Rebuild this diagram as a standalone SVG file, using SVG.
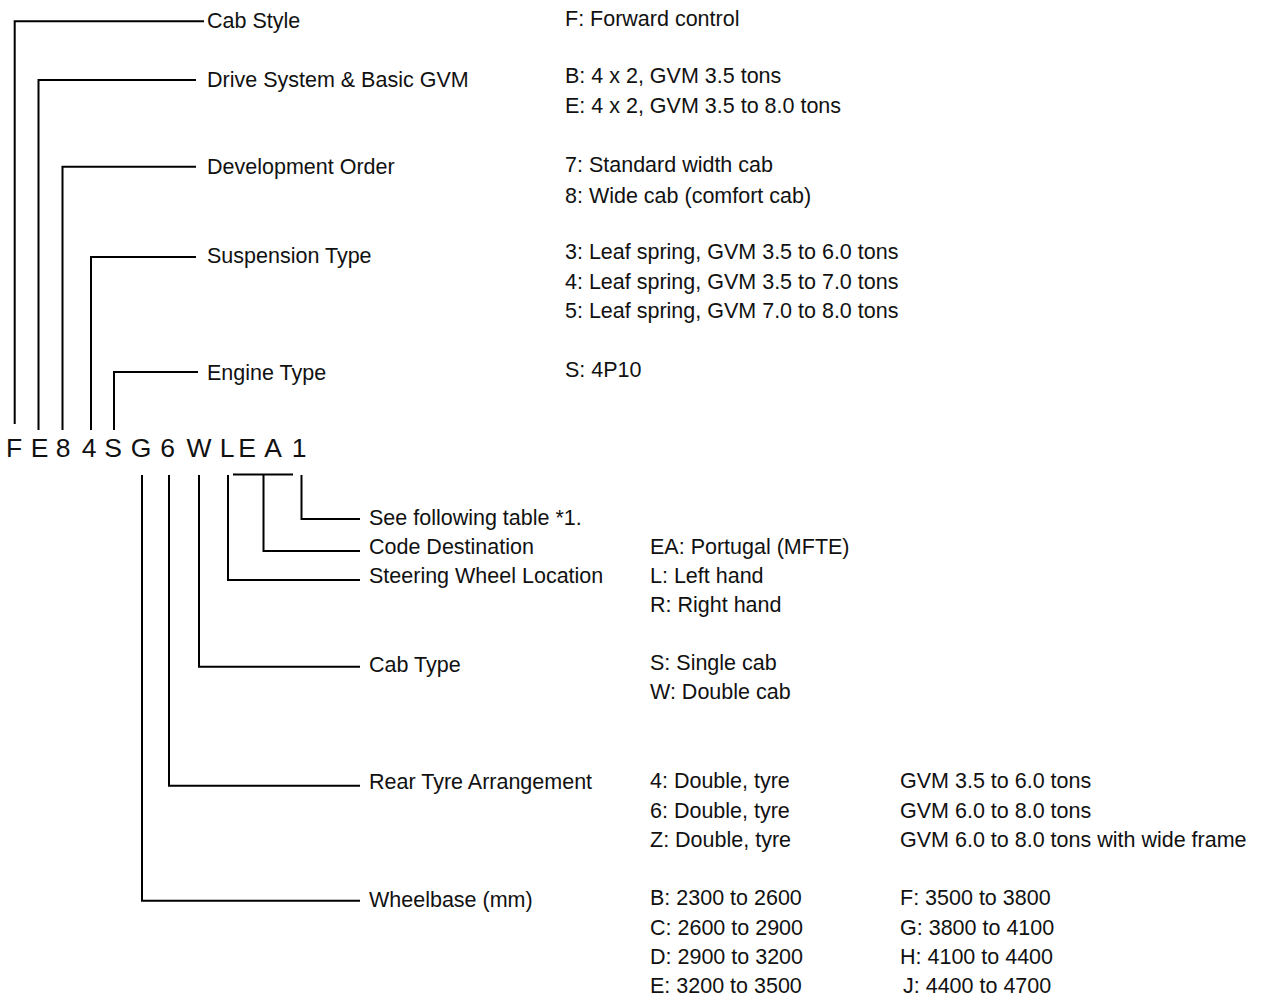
<svg xmlns="http://www.w3.org/2000/svg" width="1265" height="998" viewBox="0 0 1265 998">
<style>
text{font-family:"Liberation Sans",Arial,sans-serif;font-size:21.5px;fill:#111}
.code{font-size:26.5px;text-anchor:middle}
.ln{fill:none;stroke:#000;stroke-width:2}
</style>
<rect width="1265" height="998" fill="#fff"/>
<g id="connectors" class="ln">
<path d="M14.7 424V21.3H204"/>
<path d="M38.5 430V80H196"/>
<path d="M62.5 430V166.7H196"/>
<path d="M91 430V257H196"/>
<path d="M114 430V372H198"/>
<path d="M142 475V900.7H360"/>
<path d="M169 475V785.7H360"/>
<path d="M199 475V666.7H360"/>
<path d="M228 475V580H360"/>
<path d="M233 474.5H293"/>
<path d="M263.5 474.5V551H360"/>
<path d="M301.5 475V519H360"/>
</g>
<g id="code">
<text class="code" x="14" y="457">F</text>
<text class="code" x="39.5" y="457">E</text>
<text class="code" x="63" y="457">8</text>
<text class="code" x="89" y="457">4</text>
<text class="code" x="113" y="457">S</text>
<text class="code" x="141" y="457">G</text>
<text class="code" x="167.5" y="457">6</text>
<text class="code" x="199" y="457">W</text>
<text class="code" x="227" y="457">L</text>
<text class="code" x="247" y="457">E</text>
<text class="code" x="273" y="457">A</text>
<text class="code" x="299" y="457">1</text>
</g>
<g id="cab-style"><text x="207" y="27.5">Cab Style</text><text x="565" y="26">F: Forward control</text></g>
<g id="drive-system"><text x="207" y="87">Drive System &amp; Basic GVM</text><text x="565" y="83">B: 4 x 2, GVM 3.5 tons</text><text x="565" y="113">E: 4 x 2, GVM 3.5 to 8.0 tons</text></g>
<g id="development-order"><text x="207" y="174">Development Order</text><text x="565" y="172">7: Standard width cab</text><text x="565" y="202.5">8: Wide cab (comfort cab)</text></g>
<g id="suspension-type"><text x="207" y="263">Suspension Type</text><text x="565" y="259">3: Leaf spring, GVM 3.5 to 6.0 tons</text><text x="565" y="289">4: Leaf spring, GVM 3.5 to 7.0 tons</text><text x="565" y="318">5: Leaf spring, GVM 7.0 to 8.0 tons</text></g>
<g id="engine-type"><text x="207" y="380">Engine Type</text><text x="565" y="377">S: 4P10</text></g>
<g id="see-table"><text x="369" y="525">See following table *1.</text></g>
<g id="code-destination"><text x="369" y="554">Code Destination</text><text x="650" y="554">EA: Portugal (MFTE)</text></g>
<g id="steering"><text x="369" y="583">Steering Wheel Location</text><text x="650" y="583">L: Left hand</text><text x="650" y="612">R: Right hand</text></g>
<g id="cab-type"><text x="369" y="672">Cab Type</text><text x="650" y="670">S: Single cab</text><text x="650" y="699">W: Double cab</text></g>
<g id="rear-tyre"><text x="369" y="789">Rear Tyre Arrangement</text>
<text x="650" y="788">4: Double, tyre</text><text x="650" y="818">6: Double, tyre</text><text x="650" y="847">Z: Double, tyre</text>
<text x="900" y="788">GVM 3.5 to 6.0 tons</text><text x="900" y="818">GVM 6.0 to 8.0 tons</text><text x="900" y="847">GVM 6.0 to 8.0 tons with wide frame</text></g>
<g id="wheelbase"><text x="369" y="907">Wheelbase (mm)</text>
<text x="650" y="905">B: 2300 to 2600</text><text x="650" y="935">C: 2600 to 2900</text><text x="650" y="964">D: 2900 to 3200</text><text x="650" y="993">E: 3200 to 3500</text>
<text x="900" y="905">F: 3500 to 3800</text><text x="900" y="935">G: 3800 to 4100</text><text x="900" y="964">H: 4100 to 4400</text><text x="903" y="993">J: 4400 to 4700</text></g>
</svg>
